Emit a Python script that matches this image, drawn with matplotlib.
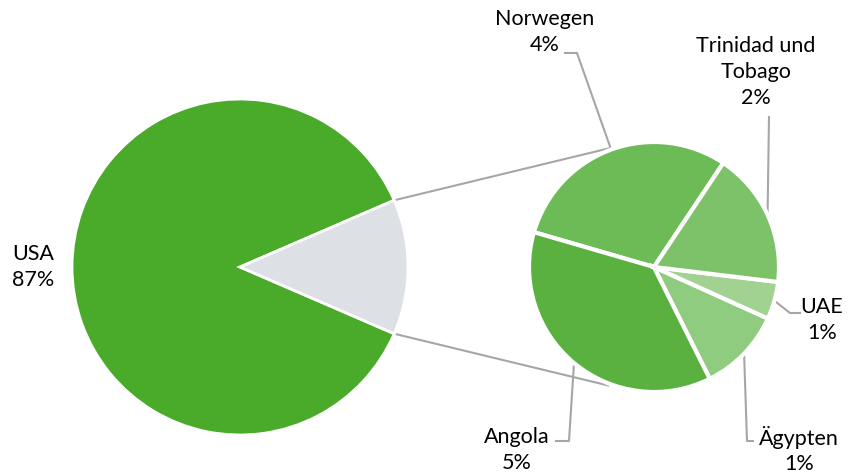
import numpy as np
import matplotlib.pyplot as plt

# main pie
main_labels = ['USA', 'Andere']
main_values = [87, 13]
main_colors = ['#4aaa2a', '#dde0e4']

# secondary pie (share of the 13 %), counter-clockwise order
sub_labels = ['Norwegen', 'Angola', 'Ägypten', 'UAE', 'Trinidad und\nTobago']
sub_values = [3.88, 4.79, 1.41, 0.63, 2.28]
sub_pct = ['4%', '5%', '1%', '1%', '2%']
sub_colors = ['#6cbb56', '#5ab140', '#8fcc80', '#a1d292', '#7dc268']

W, H = 848, 475
fig = plt.figure(figsize=(W / 100, H / 100), dpi=100)
ax = fig.add_axes([0, 0, 1, 1])

line_col = '#a6a6a6'
font = dict(family=['Lato', 'DejaVu Sans'], fontsize=15.5, color='#000000')

c1, r1 = (240, 208), 168
c2, r2 = (654, 208), 125

w1, _ = ax.pie(main_values, colors=main_colors, startangle=main_values[1] / 100 * 180,
               center=c1, radius=r1, frame=True,
               wedgeprops=dict(edgecolor='white', linewidth=2))
w2, _ = ax.pie(sub_values, colors=sub_colors, startangle=56.3,
               center=c2, radius=r2, frame=True,
               wedgeprops=dict(edgecolor='white', linewidth=3))
ax.set_xlim(0, W)
ax.set_ylim(0, H)
ax.set_aspect('equal')
ax.axis('off')


def edge(c, r, ang):
    a = np.deg2rad(ang)
    return c[0] + r * np.cos(a), c[1] + r * np.sin(a)


# connector lines between the pies
g = w1[1]
for t1, t2 in [(g.theta2, 111), (g.theta1, -111)]:
    x0, y0 = edge(c1, r1, t1)
    x1, y1 = edge(c2, r2 + 2, t2)
    ax.plot([x0, x1], [y0, y1], color=line_col, lw=1.5, zorder=0)

ax.text(33, 208, 'USA\n' + '87%', ha='center', va='center', linespacing=1.35, **font)

# label positions and leader bends (pixel layout)
label_pos = [(545, 443), (517, 25), (799, 25), (822, 155), (756, 403)]
bends = [[(577, 422), (565, 422)],
         [(569, 34), (556, 34)],
         [(747, 34), (753, 34)],
         [(790, 162), (800, 162)],
         [(769, 358)]]

for w, lab, pct, pos, bend in zip(w2, sub_labels, sub_pct, label_pos, bends):
    mid = (w.theta1 + w.theta2) / 2
    ex, ey = edge(c2, r2, mid)
    pts = [(ex, ey)] + bend
    ax.plot([p[0] for p in pts], [p[1] for p in pts], color=line_col, lw=1.5, zorder=0)
    ax.text(pos[0], pos[1], lab + '\n' + pct, ha='center', va='center',
            linespacing=1.35, **font)

fig.savefig('out.png', dpi=100)
